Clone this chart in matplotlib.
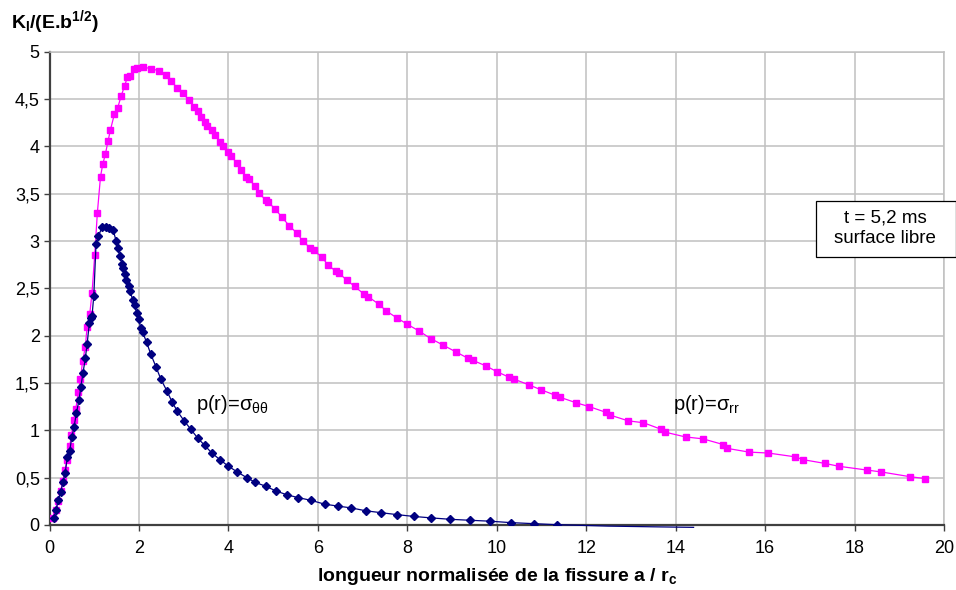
import matplotlib.pyplot as plt
from matplotlib.patches import Rectangle

# p(r) = sigma_rr (magenta)
rr_x = [0.07, 0.14, 0.19, 0.25, 0.30, 0.34, 0.40, 0.45, 0.49, 0.54, 0.59, 0.64, 0.69, 0.74,
        0.80, 0.84, 0.90, 0.95, 1.01, 1.07, 1.14, 1.19, 1.25, 1.31, 1.36, 1.45, 1.52, 1.60,
        1.68, 1.74, 1.80, 1.88, 1.95, 2.09, 2.26, 2.44, 2.60, 2.72, 2.85, 2.98, 3.12, 3.23,
        3.32, 3.39, 3.47, 3.53, 3.64, 3.70, 3.81, 3.88, 3.99, 4.06, 4.19, 4.27, 4.40, 4.47,
        4.59, 4.69, 4.83, 4.89, 5.04, 5.20, 5.36, 5.54, 5.66, 5.82, 5.91, 6.09, 6.22, 6.40,
        6.47, 6.64, 6.82, 7.03, 7.13, 7.37, 7.53, 7.76, 8.00, 8.26, 8.52, 8.80, 9.08, 9.36,
        9.46, 9.76, 10.00, 10.28, 10.39, 10.72, 10.98, 11.31, 11.41, 11.78, 12.07, 12.44,
        12.54, 12.94, 13.28, 13.68, 13.77, 14.22, 14.61, 15.06, 15.14, 15.64, 16.07, 16.67,
        16.85, 17.34, 17.65, 18.28, 18.60, 19.24, 19.58]
rr_y = [0.07, 0.16, 0.25, 0.36, 0.46, 0.58, 0.69, 0.83, 0.95, 1.11, 1.23, 1.40, 1.54, 1.73,
        1.88, 2.09, 2.23, 2.45, 2.85, 3.30, 3.68, 3.81, 3.92, 4.06, 4.17, 4.34, 4.40, 4.53,
        4.64, 4.73, 4.74, 4.82, 4.83, 4.84, 4.82, 4.80, 4.75, 4.69, 4.62, 4.56, 4.49, 4.42,
        4.37, 4.31, 4.26, 4.22, 4.17, 4.12, 4.05, 4.00, 3.94, 3.90, 3.82, 3.75, 3.68, 3.65,
        3.58, 3.51, 3.43, 3.41, 3.34, 3.25, 3.16, 3.08, 3.00, 2.93, 2.90, 2.83, 2.75, 2.68,
        2.66, 2.59, 2.52, 2.44, 2.41, 2.33, 2.26, 2.19, 2.12, 2.05, 1.97, 1.90, 1.83, 1.76,
        1.74, 1.68, 1.62, 1.56, 1.54, 1.48, 1.43, 1.37, 1.35, 1.29, 1.25, 1.19,
        1.16, 1.10, 1.08, 1.01, 0.98, 0.93, 0.91, 0.85, 0.81, 0.77, 0.76, 0.72,
        0.69, 0.65, 0.62, 0.58, 0.56, 0.51, 0.49]

# p(r) = sigma_thetatheta (navy)
tt_x = [0.10, 0.15, 0.19, 0.25, 0.30, 0.35, 0.40, 0.45, 0.50, 0.55, 0.60, 0.66, 0.70, 0.75,
        0.80, 0.84, 0.89, 0.92, 0.95, 0.99, 1.04, 1.09, 1.18, 1.26, 1.34, 1.42, 1.49, 1.53,
        1.57, 1.62, 1.65, 1.68, 1.72, 1.77, 1.80, 1.86, 1.90, 1.95, 1.99, 2.04, 2.08, 2.17,
        2.26, 2.38, 2.49, 2.62, 2.74, 2.86, 3.01, 3.16, 3.31, 3.47, 3.63, 3.81, 4.00, 4.20,
        4.41, 4.60, 4.83, 5.06, 5.30, 5.55, 5.85, 6.15, 6.44, 6.75, 7.07, 7.41, 7.76, 8.15,
        8.53, 8.96, 9.39, 9.85, 10.31, 10.83, 11.35]
tt_y = [0.07, 0.16, 0.26, 0.35, 0.45, 0.55, 0.72, 0.78, 0.93, 1.04, 1.18, 1.32, 1.46, 1.61,
        1.76, 1.91, 2.13, 2.19, 2.21, 2.42, 2.97, 3.05, 3.15, 3.15, 3.14, 3.12, 3.00, 2.93,
        2.84, 2.76, 2.71, 2.65, 2.59, 2.52, 2.47, 2.38, 2.32, 2.24, 2.18, 2.08, 2.04, 1.93,
        1.81, 1.67, 1.54, 1.42, 1.30, 1.20, 1.10, 1.01, 0.92, 0.84, 0.76, 0.69, 0.62, 0.56,
        0.50, 0.45, 0.41, 0.36, 0.32, 0.29, 0.26, 0.22, 0.20, 0.18, 0.15, 0.13, 0.11, 0.09,
        0.075, 0.06, 0.05, 0.04, 0.025, 0.014, 0.003]
# end of the navy curve, drawn as line only (slightly below zero)
tt_tail_x = [11.35, 12.5, 13.6, 14.4]
tt_tail_y = [0.003, -0.012, -0.02, -0.025]

x_ticks = list(range(0, 21, 2))
y_ticks = [0, 0.5, 1, 1.5, 2, 2.5, 3, 3.5, 4, 4.5, 5]
y_labels = ["0", "0,5", "1", "1,5", "2", "2,5", "3", "3,5", "4", "4,5", "5"]

plt.rcParams['font.family'] = ['Liberation Sans', 'DejaVu Sans']
plt.rcParams['mathtext.fontset'] = 'custom'
plt.rcParams['mathtext.rm'] = 'Liberation Sans'
plt.rcParams['mathtext.it'] = 'Liberation Sans'
plt.rcParams['mathtext.bf'] = 'Liberation Sans:bold'

fig = plt.figure(figsize=(9.56, 5.9), dpi=100)
ax = fig.add_axes([0.0518, 0.1102, 0.9357, 0.8022])

ax.plot(rr_x, rr_y, color='#FF00FF', lw=0.9, marker='s', ms=4.6, mec='#FF00FF', zorder=3)
ax.plot(tt_x, tt_y, color='#000080', lw=0.9, marker='D', ms=3.8, mec='#000080', zorder=4)
ax.plot(tt_tail_x, tt_tail_y, color='#000080', lw=0.9, zorder=4, clip_on=False)

ax.set_xlim(0, 20)
ax.set_ylim(0, 5)
ax.set_xticks(x_ticks)
ax.set_yticks(y_ticks)
ax.set_yticklabels(y_labels)
ax.grid(True, color='#c0c0c0', lw=1.1)
ax.set_axisbelow(True)
ax.tick_params(labelsize=13, length=4, width=1, color='#404040', direction='out', pad=3)
ax.tick_params(axis='x', pad=7)

for s in ['top', 'right']:
    ax.spines[s].set_color('#c0c0c0')
    ax.spines[s].set_linewidth(1.1)
for s in ['left', 'bottom']:
    ax.spines[s].set_color('#404040')
    ax.spines[s].set_linewidth(1.6)

ax.set_xlabel(r'longueur normalisée de la fissure a / r$_\mathbf{c}$', fontsize=14,
              fontweight='bold', labelpad=6)
fig.text(0.012, 0.962, r'K$_\mathbf{I}$/(E.b$^\mathbf{1/2}$)', fontsize=14,
         fontweight='bold', ha='left', va='center')

ax.text(3.27, 1.27, r'p(r)=σ$_\mathrm{θθ}$', fontsize=14.5, ha='left', va='center')
ax.text(13.95, 1.27, r'p(r)=σ$_\mathrm{rr}$', fontsize=14.5, ha='left', va='center')

fig.patches.append(Rectangle((816 / 956, 1 - 257 / 590), 140 / 956, 56 / 590,
                             transform=fig.transFigure, fill=True, facecolor='white',
                             edgecolor='black', lw=0.9))
fig.text(885 / 956, 1 - 228 / 590, 't = 5,2 ms\nsurface libre', fontsize=13.5,
         ha='center', va='center', linespacing=1.3)

fig.savefig('out.png', dpi=100)
